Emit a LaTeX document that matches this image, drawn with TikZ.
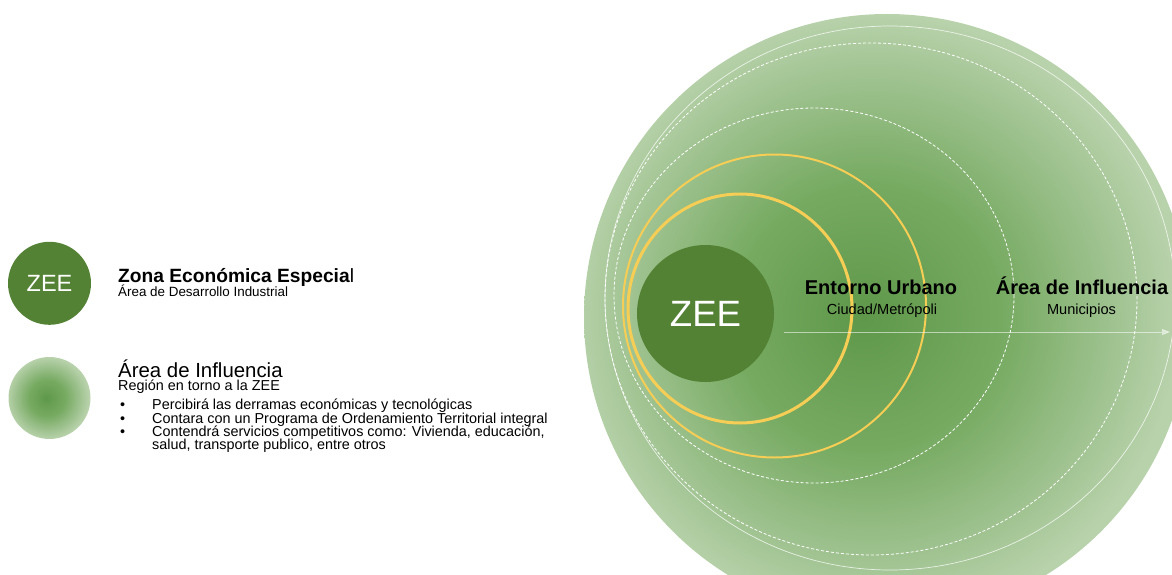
\documentclass[tikz,border=0pt]{standalone}
\usepackage{fontspec}
\setmainfont{Liberation Sans}
\usetikzlibrary{arrows.meta}
\definecolor{zeegreen}{HTML}{548235}
\definecolor{ringyellow}{HTML}{F6CD55}
\definecolor{areadark}{HTML}{5F984A}
\definecolor{areamid}{HTML}{76AA61}
\definecolor{arealight}{HTML}{A0C391}
\definecolor{areaedge}{HTML}{B8D2AB}
\pgfdeclareradialshading{influencia}{\pgfpoint{-2bp}{0bp}}{color(0bp)=(areadark); color(11bp)=(areamid); color(20bp)=(arealight); color(25bp)=(areaedge); color(50bp)=(areaedge)}
\tikzset{
  zeedot/.style={circle,fill=zeegreen,text=white,inner sep=0pt},
  ringdash/.style={white,line width=0.8pt,dash pattern=on 3pt off 2pt},
  legtitle/.style={anchor=base west,inner sep=0pt,font=\fontsize{19.2}{23}\selectfont},
  legsub/.style={anchor=base west,inner sep=0pt,font=\fontsize{14.4}{16}\selectfont},
  ringtitle/.style={anchor=base,inner sep=0pt,font=\fontsize{20}{24}\selectfont\bfseries},
  ringsub/.style={anchor=base,inner sep=0pt,font=\fontsize{14.6}{16}\selectfont}
}
\begin{document}
\begin{tikzpicture}[x=1pt,y=-1pt]
\useasboundingbox (0,0) rectangle (1172,575);

% Legend
\node[zeedot,minimum size=83pt,font=\fontsize{23.5}{26}\selectfont] (legzee) at (49.5,283.3) {ZEE};
\node[legtitle] (legzeetitle) at (118,282) {\textbf{Zona Económica Especia}l};
\node[legsub,font=\fontsize{13.4}{15}\selectfont] (legzeesub) at (118,296) {Área de Desarrollo Industrial};

\node[circle,minimum size=82pt,shading=influencia] (legarea) at (49.5,398) {};
\node[legtitle,font=\fontsize{20.4}{24}\selectfont] (legareatitle) at (118,377) {Área de Influencia};
\node[legsub] (legareasub) at (118,390.7) {Región en torno a la ZEE};
\foreach \y/\txt [count=\i] in {409.6/{Percibirá las derramas económicas y tecnológicas},
    423/{Contara con un Programa de Ordenamiento Territorial integral},
    436.4/{Contendrá servicios competitivos como: Vivienda, educación,}} {
  \node[legsub] (dot\i) at (120,\y) {•};
  \node[legsub] (item\i) at (152,\y) {\txt};
}
\node[legsub] (item4) at (152,449.6) {salud, transporte publico, entre otros};

% Rings
\begin{scope}
\clip (0,0) rectangle (1172,575);
\shade[shading=influencia] (887,317) circle [radius=303pt];
\draw[white,opacity=0.75,line width=0.7pt] (890,298) ellipse [x radius=285pt,y radius=272pt];
\end{scope}
\draw[ringdash] (871,299) ellipse [x radius=266pt,y radius=256pt];
\draw[ringdash] (814,295.5) ellipse [x radius=200pt,y radius=187.5pt];
\draw[ringyellow,line width=2pt] (774.5,306) circle [radius=151.5pt];
\draw[ringyellow,line width=3pt] (740,308.5) ellipse [x radius=112pt,y radius=114.5pt];
\node[zeedot,minimum size=137pt,font=\fontsize{36.6}{40}\selectfont] (zee) at (705.5,313.5) {ZEE};

% Arrow
\coordinate (arrowstart) at (784,332);
\coordinate (arrowend) at (1170,332);
\draw[white,opacity=0.55,line width=0.7pt,-{Triangle[length=8pt,width=6pt]}] (arrowstart) -- (arrowend);

% Labels
\node[ringtitle] (urbano) at (881,294) {Entorno Urbano};
\node[ringsub] (ciudad) at (882,314) {Ciudad/Metrópoli};
\node[ringtitle] (influencia) at (1082,294) {Área de Influencia};
\node[ringsub] (municipios) at (1081.5,314) {Municipios};
\end{tikzpicture}
\end{document}
